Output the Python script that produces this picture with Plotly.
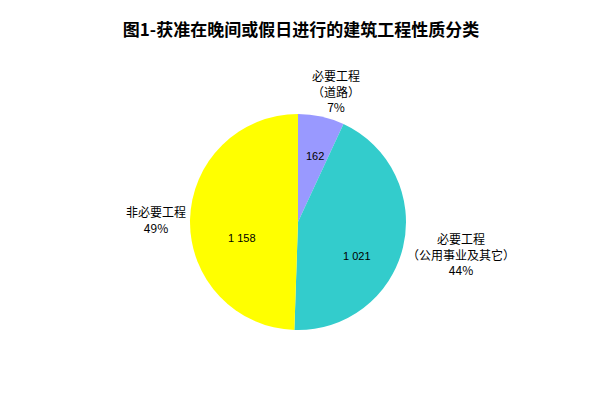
import plotly.graph_objects as go

# data
categories = ["必要工程（道路）", "必要工程（公用事业及其它）", "非必要工程"]
label_lines = ["必要工程<br>（道路）", "必要工程<br>（公用事业及其它）", "非必要工程"]
counts = [162, 1021, 1158]
colors = ["#9999FF", "#33CCCC", "#FFFF00"]

W, H = 601, 417
CJK = "Noto Sans CJK SC"
OFF = 8  # page body margin shifts the figure by this many pixels

# pie placement in pixels (centre and radius), as seen on the page
cx, cy, r = 298 - OFF, 222 - OFF, 108
# outside-label block centres and inside value-label centres, in pixels
label_pos = [(336, 91), (461, 254), (156, 220)]
value_pos = [(315, 156), (357, 256), (242, 238)]

total = sum(counts)
pcts = [round(v * 100 / total) for v in counts]

fig = go.Figure(
    go.Pie(
        labels=categories,
        values=counts,
        sort=False,
        direction="clockwise",
        rotation=0,
        marker=dict(colors=colors, line=dict(width=0)),
        textinfo="none",
        showlegend=False,
        hoverinfo="label+value+percent",
        domain=dict(
            x=[(cx - r) / W, (cx + r) / W],
            y=[1 - (cy + r) / H, 1 - (cy - r) / H],
        ),
    )
)


def note(text, pos, font):
    fig.add_annotation(
        x=(pos[0] - OFF) / W,
        y=1 - (pos[1] - OFF) / H,
        xref="paper",
        yref="paper",
        text=text,
        showarrow=False,
        xanchor="center",
        yanchor="middle",
        align="center",
        font=font,
    )


for text, p, v, lp, vp in zip(label_lines, pcts, counts, label_pos, value_pos):
    note(f"{text}<br>{p}%", lp, dict(family=CJK, size=12, color="black"))
    note(f"{v:,}".replace(",", " "), vp,
         dict(family="Liberation Sans, Arial", size=11, color="black"))

fig.update_layout(
    width=W,
    height=H,
    margin=dict(l=0, r=0, t=0, b=0),
    paper_bgcolor="white",
    plot_bgcolor="white",
    title=dict(
        text="<b>图1-获准在晚间或假日进行的建筑工程性质分类</b>",
        x=(301 - OFF) / W,
        xanchor="center",
        y=1 - (30 - OFF) / H,
        yanchor="middle",
        font=dict(family=CJK, size=17, color="black"),
    ),
)

fig.write_html("out.html")
